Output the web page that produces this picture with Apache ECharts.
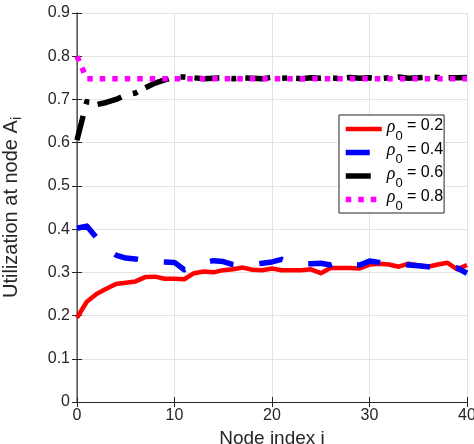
<!DOCTYPE html>
<html>
<head>
<meta charset="utf-8">
<script src="https://cdn.jsdelivr.net/npm/echarts@6/dist/echarts.min.js"></script>
<style>
  html, body { margin: 0; padding: 0; background: #fff; }
  #main { width: 474px; height: 444px; }
</style>
</head>
<body>
<div id="main"></div>
<script>
// node index on the x axis
var nodeIndex = [0, 1, 2, 3, 4, 5, 6, 7, 8, 9, 10, 11, 12, 13, 14, 15, 16, 17, 18, 19, 20,
  21, 22, 23, 24, 25, 26, 27, 28, 29, 30, 31, 32, 33, 34, 35, 36, 37, 38, 39, 40];

// utilization, one array per starting rho_0
var rho02 = [0.195, 0.232, 0.250, 0.262, 0.273, 0.276, 0.279, 0.289, 0.290, 0.285, 0.285,
  0.284, 0.298, 0.302, 0.300, 0.305, 0.307, 0.311, 0.306, 0.305, 0.309,
  0.305, 0.305, 0.305, 0.307, 0.298, 0.310, 0.310, 0.310, 0.309, 0.318,
  0.320, 0.318, 0.313, 0.320, 0.316, 0.313, 0.318, 0.322, 0.307, 0.317];
var rho04 = [0.402, 0.407, 0.380, 0.355, 0.340, 0.333, 0.331, 0.327, 0.325, 0.324, 0.323,
  0.306, 0.315, 0.322, 0.327, 0.325, 0.318, 0.316, 0.318, 0.321, 0.324,
  0.330, 0.322, 0.320, 0.320, 0.321, 0.317, 0.325, 0.318, 0.317, 0.326,
  0.323, 0.320, 0.318, 0.317, 0.315, 0.313, 0.310, 0.312, 0.310, 0.298];
var rho06 = [0.606, 0.695, 0.688, 0.693, 0.700, 0.710, 0.715, 0.727, 0.738, 0.745, 0.752,
  0.752, 0.750, 0.748, 0.749, 0.750, 0.748, 0.750, 0.749, 0.748, 0.751,
  0.749, 0.750, 0.748, 0.750, 0.749, 0.750, 0.748, 0.751, 0.749, 0.750,
  0.748, 0.750, 0.752, 0.749, 0.750, 0.752, 0.751, 0.750, 0.750, 0.751];
var rho08 = [0.800, 0.748, 0.748, 0.748, 0.748, 0.748, 0.748, 0.748, 0.748, 0.748, 0.748,
  0.748, 0.748, 0.748, 0.748, 0.748, 0.748, 0.748, 0.748, 0.748, 0.748,
  0.748, 0.748, 0.748, 0.748, 0.748, 0.748, 0.748, 0.748, 0.748, 0.748,
  0.748, 0.748, 0.748, 0.748, 0.748, 0.748, 0.748, 0.748, 0.748, 0.748];

var seriesNames = ['0.2', '0.4', '0.6', '0.8'];
var xTicks = [0, 10, 20, 30, 40];
var yTicks = [0, 0.1, 0.2, 0.3, 0.4, 0.5, 0.6, 0.7, 0.8, 0.9];

var FONT = 'Liberation Sans';
var AX = '#262626';
var GRID = '#e3e3e3';

function pairs(vals) {
  return vals.map(function (v, i) { return [nodeIndex[i], v]; });
}

function lineSeries(name, vals, color, width, dash) {
  return {
    name: name,
    type: 'line',
    data: pairs(vals),
    symbol: 'none',
    xAxisIndex: 0,
    yAxisIndex: 0,
    itemStyle: { color: color },
    lineStyle: { color: color, width: width, type: dash, cap: 'butt', join: 'round' }
  };
}

var chart = echarts.init(document.getElementById('main'), null, { renderer: 'canvas' });

var xBase = {
  type: 'value',
  min: xTicks[0],
  max: xTicks[xTicks.length - 1],
  interval: 10,
  axisLine: { show: true, lineStyle: { color: AX, width: 1 } },
  axisTick: { show: true, inside: true, length: 5, lineStyle: { color: AX } },
  splitLine: { show: false }
};
var yBase = {
  type: 'value',
  min: yTicks[0],
  max: yTicks[yTicks.length - 1],
  interval: 0.1,
  axisLine: { show: true, lineStyle: { color: AX, width: 1 } },
  axisTick: { show: true, inside: true, length: 5, lineStyle: { color: AX } },
  splitLine: { show: false }
};

chart.setOption({
  animation: false,
  backgroundColor: '#fff',
  textStyle: { fontFamily: FONT },
  grid: { left: 77, right: 7, top: 13, bottom: 42, containLabel: false, outerBoundsMode: 'none' },
  xAxis: [
    Object.assign({}, xBase, {
      position: 'bottom',
      name: 'Node index i',
      nameLocation: 'middle',
      nameGap: 21,
      nameTextStyle: { fontSize: 19, color: AX, fontFamily: FONT },
      axisLabel: { fontSize: 16, color: AX, fontFamily: FONT, margin: 6 },
      splitLine: { show: true, lineStyle: { color: GRID, width: 1 } }
    }),
    Object.assign({}, xBase, { position: 'top', axisLabel: { show: false } })
  ],
  yAxis: [
    Object.assign({}, yBase, {
      position: 'left',
      name: '{a|Utilization at node A}{s|i}',
      nameLocation: 'middle',
      nameRotate: 90,
      nameGap: 53,
      nameTextStyle: {
        color: AX,
        fontFamily: FONT,
        fontSize: 20,
        rich: {
          a: { fontSize: 20, color: AX, fontFamily: FONT },
          s: { fontSize: 14, color: AX, fontFamily: FONT, padding: [12, 0, 0, 0] }
        }
      },
      axisLabel: {
        fontSize: 16, color: AX, fontFamily: FONT, margin: 7,
        formatter: function (v) { return v === 0 ? '0' : v.toFixed(1); }
      },
      splitLine: { show: true, lineStyle: { color: GRID, width: 1 } }
    }),
    Object.assign({}, yBase, {
      position: 'right',
      axisLabel: { show: false },
      axisLine: { show: true, lineStyle: { color: '#707070', width: 1.5 } }
    })
  ],
  legend: {
    orient: 'vertical',
    left: 339,
    top: 115,
    padding: [3, 1, 0, 4],
    itemGap: -1,
    itemWidth: 36,
    itemHeight: 2,
    backgroundColor: '#fff',
    borderColor: AX,
    borderWidth: 1,
    borderRadius: 0,
    itemStyle: { opacity: 0 },
    lineStyle: { width: 'inherit', type: 'inherit', cap: 'butt' },
    data: seriesNames,
    formatter: function (name) {
      return '{r|\u03c1}{s|0}{t| = ' + name + '}';
    },
    textStyle: {
      color: '#000',
      fontFamily: FONT,
      fontSize: 16,
      rich: {
        r: { fontSize: 18, fontStyle: 'italic', fontFamily: 'Liberation Serif', color: '#000', padding: [0, 0, 4, 0] },
        s: { fontSize: 13, fontFamily: FONT, color: '#000', padding: [14, 0, 0, 0] },
        t: { fontSize: 16, fontFamily: FONT, color: '#000', padding: [0, 0, 6, 0] }
      }
    }
  },
  series: [
    lineSeries(seriesNames[0], rho02, '#ff0000', 4.5, 'solid'),
    lineSeries(seriesNames[1], rho04, '#0000ff', 5.5, [24, 26]),
    lineSeries(seriesNames[2], rho06, '#000000', 5.5, [25, 12, 5, 9]),
    lineSeries(seriesNames[3], rho08, '#ff00ff', 5.5, [5.5, 7])
  ]
});
</script>
</body>
</html>
